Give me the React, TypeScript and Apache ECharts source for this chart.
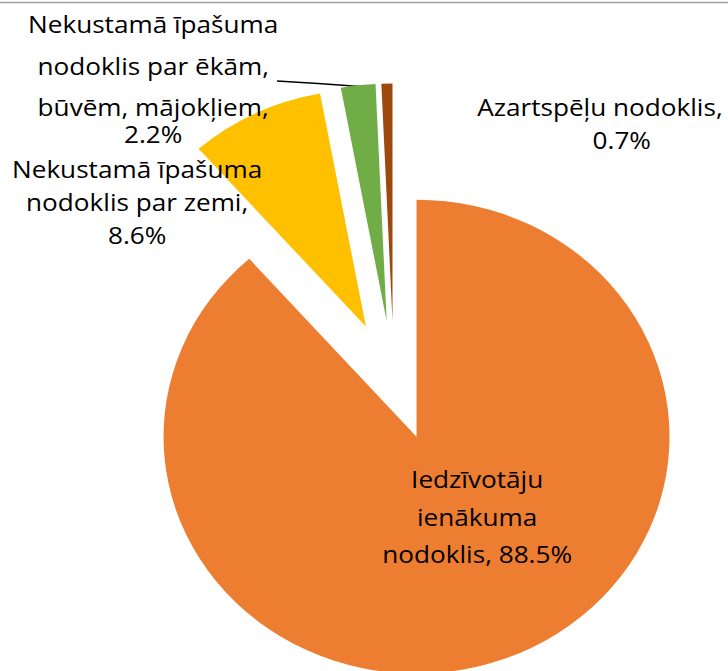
import React, { useEffect, useRef } from 'react';
import * as echarts from 'echarts';

// Data
const categories = [
  'Iedzīvotāju\nienākuma\nnodoklis',
  'Nekustamā īpašuma\nnodoklis par zemi',
  'Nekustamā īpašuma\nnodoklis par ēkām,\nbūvēm, mājokļiem',
  'Azartspēļu nodoklis',
];
const shares = [88.5, 8.6, 2.2, 0.7];
const valueOnOwnLine = [false, true, true, true];
const colors = ['#ED7D31', '#FFC000', '#70AD47', '#9E480E'];

// Layout (not data). The reference picture is horizontally stretched,
// so the chart is drawn at a narrower width and stretched with CSS.
const innerW = 682;
const stretchX = 728 / innerW;
const pieCenter = [369, 380.5];
const pieRadius = 237;
const explode = 60;
const richPrefix = ['o', 'y', 'g', 'b'];
const labelCenters: [number, number][] = [
  [447, 516],
  [128.5, 201],
  [143.5, 71],
  [562, 123],
];

export default function App() {
  const ref = useRef<HTMLDivElement>(null);
  useEffect(() => {
    if (!ref.current) return;
    const chart = echarts.init(ref.current, null, { renderer: 'svg' });
    const fs = 24.5;
    const base = { fontFamily: 'Open Sans', fontSize: fs, color: '#000', align: 'center' as const };
    const rich: Record<string, any> = {
      o0: { ...base, lineHeight: 37.5 },
      o1: { ...base, lineHeight: 37.5 },
      o2: { ...base, lineHeight: 37.5 },
      y0: { ...base, lineHeight: 33 },
      y1: { ...base, lineHeight: 33 },
      y2: { ...base, lineHeight: 33 },
      g0: { ...base, lineHeight: 42 },
      g1: { ...base, lineHeight: 42 },
      g2: { ...base, lineHeight: 40 },
      g3: { ...base, lineHeight: 13 },
      b0: { ...base, lineHeight: 33 },
      b1: { ...base, lineHeight: 33, padding: [0, 0, 0, 41] },
    };
    const total = shares.reduce((a, b) => a + b, 0);
    let cum = 0;
    const series = shares.map((s, i) => {
      const mid = ((cum + s / 2) / total) * Math.PI * 2;
      cum += s;
      const cx = pieCenter[0] + Math.sin(mid) * explode;
      const cy = pieCenter[1] - Math.cos(mid) * explode;
      const data = categories.map((name, j) => ({
        name,
        value: shares[j],
        itemStyle: { color: j === i ? colors[j] : 'rgba(0,0,0,0)' },
        label: { show: j === i, position: j === 0 ? 'inside' : 'outside' },
        labelLine: { show: j === i && j === 2, lineStyle: { color: '#000', width: 1.5 } },
      }));
      return {
        type: 'pie',
        center: [cx, cy],
        radius: [0, pieRadius],
        startAngle: 90,
        clockwise: true,
        avoidLabelOverlap: false,
        silent: true,
        z: i === 2 ? 3 : 2,
        emphasis: { disabled: true },
        itemStyle: { borderWidth: 0 },
        label: {
          fontFamily: 'Open Sans',
          fontSize: fs,
          color: '#000',
          formatter: (p: any) => {
            const k0 = p.dataIndex;
            const txt =
              p.name + ',' + (valueOnOwnLine[k0] ? '\n' : ' ') + Number(p.value).toFixed(1) + '%';
            return txt
              .split('\n')
              .map((l: string, k: number) => `{${richPrefix[k0]}${k}|${l}}`)
              .join('\n');
          },
          rich,
        },
        labelLayout: (params: any) => {
          const k0 = params.dataIndex;
          const out: any = {
            x: labelCenters[k0][0],
            y: labelCenters[k0][1],
            align: 'center',
            verticalAlign: 'middle',
          };
          if (k0 === 2) {
            out.labelLinePoints = [
              [337.5, 86.5],
              [298, 83.5],
              [259.5, 81],
            ];
          }
          return out;
        },
        data,
      };
    });
    chart.setOption({
      animation: false,
      graphic: [
        {
          type: 'line',
          shape: { x1: 0, y1: 2.5, x2: innerW, y2: 2.5 },
          style: { stroke: '#A0A0A0', lineWidth: 1.5 },
        },
      ],
      series,
    });
    return () => chart.dispose();
  }, []);
  return (
    <div
      style={{
        position: 'absolute',
        left: 0,
        top: 0,
        width: 728,
        height: 671,
        overflow: 'hidden',
        background: '#fff',
      }}
    >
      <div
        ref={ref}
        style={{
          width: innerW,
          height: 671,
          transform: `scaleX(${stretchX})`,
          transformOrigin: '0 0',
        }}
      />
    </div>
  );
}
